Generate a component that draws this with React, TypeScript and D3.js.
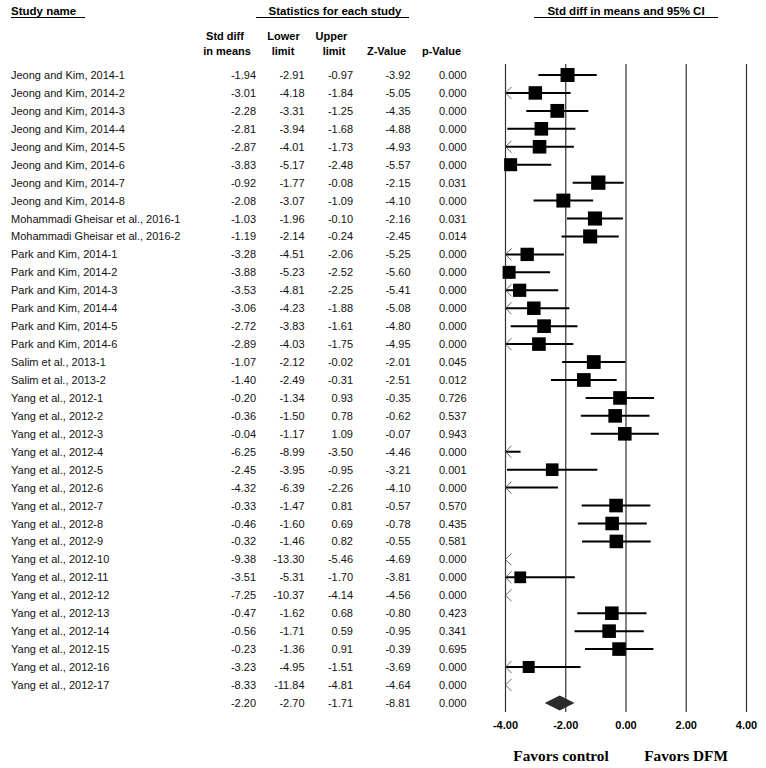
import React from "react";
import * as d3 from "d3";

const studies = [
  "Jeong and Kim, 2014-1", "Jeong and Kim, 2014-2", "Jeong and Kim, 2014-3", "Jeong and Kim, 2014-4",
  "Jeong and Kim, 2014-5", "Jeong and Kim, 2014-6", "Jeong and Kim, 2014-7", "Jeong and Kim, 2014-8",
  "Mohammadi Gheisar et al., 2016-1", "Mohammadi Gheisar et al., 2016-2",
  "Park and Kim, 2014-1", "Park and Kim, 2014-2", "Park and Kim, 2014-3", "Park and Kim, 2014-4",
  "Park and Kim, 2014-5", "Park and Kim, 2014-6",
  "Salim et al., 2013-1", "Salim et al., 2013-2",
  "Yang et al., 2012-1", "Yang et al., 2012-2", "Yang et al., 2012-3", "Yang et al., 2012-4",
  "Yang et al., 2012-5", "Yang et al., 2012-6", "Yang et al., 2012-7", "Yang et al., 2012-8",
  "Yang et al., 2012-9", "Yang et al., 2012-10", "Yang et al., 2012-11", "Yang et al., 2012-12",
  "Yang et al., 2012-13", "Yang et al., 2012-14", "Yang et al., 2012-15", "Yang et al., 2012-16",
  "Yang et al., 2012-17",
];
const stdDiff = [-1.94, -3.01, -2.28, -2.81, -2.87, -3.83, -0.92, -2.08, -1.03, -1.19, -3.28, -3.88, -3.53, -3.06, -2.72, -2.89, -1.07, -1.40, -0.20, -0.36, -0.04, -6.25, -2.45, -4.32, -0.33, -0.46, -0.32, -9.38, -3.51, -7.25, -0.47, -0.56, -0.23, -3.23, -8.33];
const lower = [-2.91, -4.18, -3.31, -3.94, -4.01, -5.17, -1.77, -3.07, -1.96, -2.14, -4.51, -5.23, -4.81, -4.23, -3.83, -4.03, -2.12, -2.49, -1.34, -1.50, -1.17, -8.99, -3.95, -6.39, -1.47, -1.60, -1.46, -13.30, -5.31, -10.37, -1.62, -1.71, -1.36, -4.95, -11.84];
const upper = [-0.97, -1.84, -1.25, -1.68, -1.73, -2.48, -0.08, -1.09, -0.10, -0.24, -2.06, -2.52, -2.25, -1.88, -1.61, -1.75, -0.02, -0.31, 0.93, 0.78, 1.09, -3.50, -0.95, -2.26, 0.81, 0.69, 0.82, -5.46, -1.70, -4.14, 0.68, 0.59, 0.91, -1.51, -4.81];
const zValue = [-3.92, -5.05, -4.35, -4.88, -4.93, -5.57, -2.15, -4.10, -2.16, -2.45, -5.25, -5.60, -5.41, -5.08, -4.80, -4.95, -2.01, -2.51, -0.35, -0.62, -0.07, -4.46, -3.21, -4.10, -0.57, -0.78, -0.55, -4.69, -3.81, -4.56, -0.80, -0.95, -0.39, -3.69, -4.64];
const pValue = ["0.000", "0.000", "0.000", "0.000", "0.000", "0.000", "0.031", "0.000", "0.031", "0.014", "0.000", "0.000", "0.000", "0.000", "0.000", "0.000", "0.045", "0.012", "0.726", "0.537", "0.943", "0.000", "0.001", "0.000", "0.570", "0.435", "0.581", "0.000", "0.000", "0.000", "0.423", "0.341", "0.695", "0.000", "0.000"];
const summary = { est: -2.20, lo: -2.70, hi: -1.71, z: -8.81, p: "0.000" };
const ticks = [-4, -2, 0, 2, 4];

const SANS = "'Liberation Sans', Arial, sans-serif";
const SERIF = "'Liberation Serif', 'Times New Roman', serif";

export default function App() {
  const W = 766, H = 768;
  const x = d3.scaleLinear().domain([-4, 4]).range([505.5, 746.5]);
  const y = d3.scaleLinear().domain([0, 34]).range([75, 75 + 34 * 17.94]);
  const [dmin, dmax] = x.domain();
  const tau2 = 1.2;
  const weights = lower.map((l, i) => {
    const se = (upper[i] - l) / 3.92;
    return 1 / (se * se + tau2);
  });
  const wmax = d3.max(weights) as number;
  const size = d3.scaleSqrt().domain([0, wmax]).range([0, 14.3]);
  const cols = [256, 304.5, 353, 410.5, 466.5];
  const fmt = d3.formatLocale({ decimal: ".", thousands: ",", grouping: [3], currency: ["", ""], minus: "-" }).format(".2f");
  const ySum = y(35);
  const fsz = 11;

  return (
    <svg width={W} height={H} style={{ display: "block", position: "absolute", left: 0, top: 0, background: "#fff" }}>
      {/* headers */}
      <g fontFamily={SANS} fontWeight="bold" fontSize={11.5} fill="#000">
        <text x={11} y={15}>Study name</text>
        <line x1={11} x2={85} y1={17.5} y2={17.5} stroke="#000" strokeWidth={1} />
        <text x={335} y={15} textAnchor="middle">Statistics for each study</text>
        <line x1={256} x2={409} y1={17.5} y2={17.5} stroke="#000" strokeWidth={1} />
        <text x={626} y={15} textAnchor="middle">Std diff in means and 95% CI</text>
        <line x1={534} x2={718} y1={17.5} y2={17.5} stroke="#000" strokeWidth={1} />
      </g>
      <g fontFamily={SANS} fontWeight="bold" fontSize={11} fill="#000">
        <text x={225} y={40} textAnchor="middle">Std diff</text>
        <text x={227} y={55} textAnchor="middle">in means</text>
        <text x={283.5} y={40} textAnchor="middle">Lower</text>
        <text x={283} y={55} textAnchor="middle">limit</text>
        <text x={331.5} y={40} textAnchor="middle">Upper</text>
        <text x={334} y={55} textAnchor="middle">limit</text>
        <text x={386.5} y={55} textAnchor="middle">Z-Value</text>
        <text x={441.5} y={55} textAnchor="middle">p-Value</text>
      </g>

      {/* table rows */}
      <g fontFamily={SANS} fontSize={fsz} fill="#111">
        {studies.map((s, i) => (
          <g key={s}>
            <text x={11} y={y(i) + 4}>{s}</text>
            <text x={cols[0]} y={y(i) + 4} textAnchor="end">{fmt(stdDiff[i])}</text>
            <text x={cols[1]} y={y(i) + 4} textAnchor="end">{fmt(lower[i])}</text>
            <text x={cols[2]} y={y(i) + 4} textAnchor="end">{fmt(upper[i])}</text>
            <text x={cols[3]} y={y(i) + 4} textAnchor="end">{fmt(zValue[i])}</text>
            <text x={cols[4]} y={y(i) + 4} textAnchor="end">{pValue[i]}</text>
          </g>
        ))}
        <text x={cols[0]} y={ySum + 4} textAnchor="end">{fmt(summary.est)}</text>
        <text x={cols[1]} y={ySum + 4} textAnchor="end">{fmt(summary.lo)}</text>
        <text x={cols[2]} y={ySum + 4} textAnchor="end">{fmt(summary.hi)}</text>
        <text x={cols[3]} y={ySum + 4} textAnchor="end">{fmt(summary.z)}</text>
        <text x={cols[4]} y={ySum + 4} textAnchor="end">{summary.p}</text>
      </g>

      {/* vertical reference lines */}
      <g>
        {ticks.map((t) => (
          <line key={t} x1={x(t)} x2={x(t)} y1={64} y2={712} stroke="#333" strokeWidth={1.2} />
        ))}
      </g>

      {/* forest marks */}
      <g>
        {studies.map((s, i) => {
          const yy = y(i);
          const lo = Math.max(lower[i], dmin);
          const hi = Math.min(upper[i], dmax);
          const showLine = hi > dmin && lo < dmax;
          const leftArrow = lower[i] < dmin;
          const inRange = stdDiff[i] >= dmin && stdDiff[i] <= dmax;
          const sz = size(weights[i]);
          return (
            <g key={s}>
              {showLine && (
                <line x1={x(lo)} x2={x(hi)} y1={yy} y2={yy} stroke="#000" strokeWidth={2} />
              )}
              {leftArrow && (
                <path
                  d={`M${x(dmin) + 6},${yy - 6} L${x(dmin)},${yy} L${x(dmin) + 6},${yy + 6}`}
                  fill="none"
                  stroke="#555"
                  strokeWidth={0.9}
                />
              )}
              {inRange && (
                <rect x={x(stdDiff[i]) - sz / 2} y={yy - sz / 2} width={sz} height={sz} fill="#000" />
              )}
            </g>
          );
        })}
        <path
          d={`M${x(summary.lo)},${ySum} L${x(summary.est)},${ySum - 7.5} L${x(summary.hi)},${ySum} L${x(summary.est)},${ySum + 7.5} Z`}
          fill="#2b2b2b"
        />
      </g>

      {/* axis labels */}
      <g fontFamily={SANS} fontWeight="bold" fontSize={11} fill="#000">
        {ticks.map((t) => (
          <text key={t} x={x(t)} y={729} textAnchor="middle">{fmt(t)}</text>
        ))}
      </g>
      <g fontFamily={SERIF} fontWeight="bold" fontSize={15.3} fill="#000">
        <text x={561} y={761} textAnchor="middle">Favors control</text>
        <text x={686} y={761} textAnchor="middle">Favors DFM</text>
      </g>
    </svg>
  );
}
